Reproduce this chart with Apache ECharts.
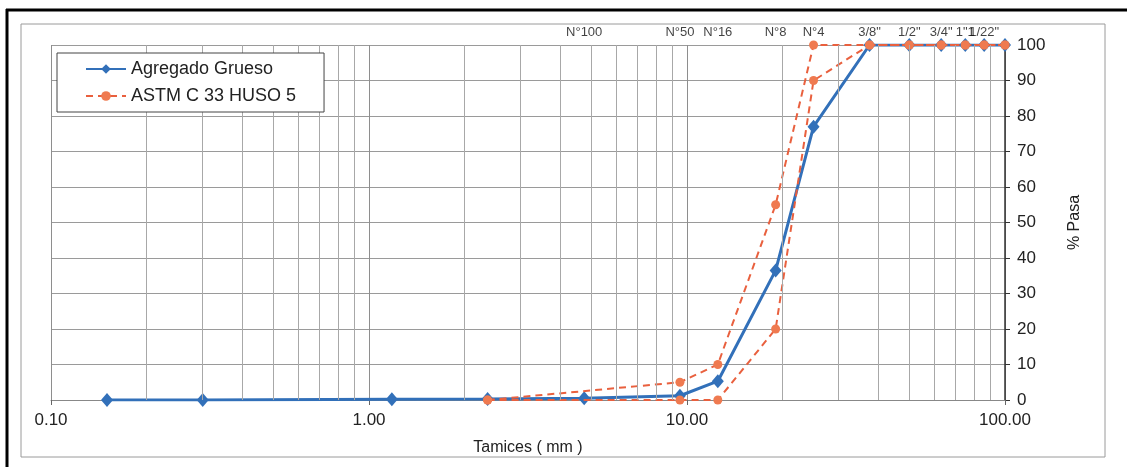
<!DOCTYPE html>
<html>
<head>
<meta charset="utf-8">
<script src="https://cdn.jsdelivr.net/npm/echarts@6/dist/echarts.min.js"></script>
<style>
  html, body { margin: 0; padding: 0; background: #fff; }
  #main { width: 1127px; height: 467px; }
</style>
</head>
<body>
<div id="main"></div>
<script>
// sieve openings (mm) and % passing
const sizesGrueso = [0.15, 0.3, 1.18, 2.36, 4.75, 9.5, 12.5, 19, 25, 37.5, 50, 63, 75, 86, 100];
const pasaGrueso = [0, 0, 0.2, 0.3, 0.5, 1.2, 5.3, 36.5, 77, 100, 100, 100, 100, 100, 100];

const sizesHuso = [2.36, 9.5, 12.5, 19, 25, 37.5, 50, 63, 75, 86, 100];
const husoSuperior = [0, 5, 10, 55, 100, 100, 100, 100, 100, 100, 100];
const husoInferior = [0, 0, 0, 20, 90, 100, 100, 100, 100, 100, 100];

// sieve names printed over the plot
const topLabelSizes = [4.75, 9.5, 12.5, 19, 25, 37.5, 50, 63, 75, 86];
const topLabels = ['N°100', 'N°50', 'N°16', 'N°8', 'N°4', '3/8"', '1/2"', '3/4"', '1"1', '1/22"'];

// minor log gridlines
const minorGrid = [0.2, 0.3, 0.4, 0.5, 0.6, 0.7, 0.8, 0.9,
  2, 3, 4, 5, 6, 7, 8, 9,
  20, 30, 40, 50, 60, 70, 80, 90];

const font = '"Liberation Sans", Arial, sans-serif';
const blue = '#3270b9';
const orange = '#e9603e';

const chart = echarts.init(document.getElementById('main'));

const pair = (xs, ys) => xs.map((x, i) => [x, ys[i]]);

const option = {
  backgroundColor: '#ffffff',
  animation: false,
  textStyle: { fontFamily: font },
  graphic: [
    // inner chart frame
    { type: 'rect', shape: { x: 21, y: 24, width: 1084, height: 433 },
      style: { fill: 'none', stroke: '#9a9a9a', lineWidth: 1 }, z: -1 },
    // scanned outer border (top + left)
    { type: 'line', shape: { x1: 6, y1: 10, x2: 1127, y2: 10 }, style: { stroke: '#000', lineWidth: 3 } },
    { type: 'line', shape: { x1: 7, y1: 9, x2: 7, y2: 467 }, style: { stroke: '#000', lineWidth: 3 } }
  ],
  grid: { left: 51, right: 122, top: 45, bottom: 67 },
  legend: {
    left: 57,
    top: 53,
    orient: 'vertical',
    data: ['Agregado Grueso', 'ASTM C 33 HUSO 5'],
    backgroundColor: '#fff',
    borderColor: '#444',
    borderWidth: 1,
    padding: [7, 28, 7, 28],
    itemGap: 9,
    itemWidth: 40,
    itemHeight: 12,
    textStyle: { fontSize: 18, color: '#222', fontFamily: font },
    z: 10
  },
  xAxis: {
    type: 'log',
    logBase: 10,
    min: 0.1,
    max: 100,
    name: 'Tamices ( mm )',
    nameLocation: 'middle',
    nameGap: 40,
    nameTextStyle: { fontSize: 16, color: '#222' },
    axisLine: { show: true, lineStyle: { color: '#888', width: 1 } },
    axisTick: { show: true, length: 5, lineStyle: { color: '#666' } },
    axisLabel: {
      fontSize: 17,
      color: '#222',
      margin: 12,
      formatter: v => Number(v).toFixed(2)
    },
    splitLine: { show: true, lineStyle: { color: '#8e8e8e', width: 1 } }
  },
  yAxis: {
    type: 'value',
    position: 'right',
    min: 0,
    max: 100,
    interval: 10,
    name: '% Pasa',
    nameLocation: 'middle',
    nameRotate: 90,
    nameGap: 62,
    nameTextStyle: { fontSize: 16, color: '#222' },
    axisLine: { show: true, lineStyle: { color: '#333', width: 1.5 } },
    axisTick: { show: true, length: 5, lineStyle: { color: '#333' } },
    axisLabel: { fontSize: 17, color: '#222', margin: 12 },
    splitLine: { show: true, lineStyle: { color: '#9a9a9a', width: 1 } }
  },
  series: [
    {
      // top sieve names + minor grid
      name: 'labels',
      type: 'scatter',
      data: pair(topLabelSizes, topLabelSizes.map(() => 100)),
      symbolSize: 0,
      silent: true,
      z: 1,
      label: {
        show: true,
        position: 'top',
        distance: 6,
        fontSize: 13,
        color: '#111',
        formatter: p => topLabels[p.dataIndex]
      },
      markLine: {
        silent: true,
        symbol: 'none',
        label: { show: false },
        lineStyle: { color: '#a8a8a8', width: 1, type: 'solid' },
        data: minorGrid.map(v => ({ xAxis: v }))
      }
    },
    {
      name: 'Agregado Grueso',
      type: 'line',
      data: pair(sizesGrueso, pasaGrueso),
      symbol: 'diamond',
      symbolSize: [12, 14],
      lineStyle: { color: blue, width: 3 },
      itemStyle: { color: blue },
      z: 3
    },
    {
      name: 'ASTM C 33 HUSO 5',
      type: 'line',
      data: pair(sizesHuso, husoSuperior),
      symbol: 'circle',
      symbolSize: 9,
      lineStyle: { color: orange, width: 2, type: [7, 5] },
      itemStyle: { color: '#ef7a50' },
      z: 4
    },
    {
      name: 'ASTM C 33 HUSO 5',
      type: 'line',
      data: pair(sizesHuso, husoInferior),
      symbol: 'circle',
      symbolSize: 9,
      lineStyle: { color: orange, width: 2, type: [7, 5] },
      itemStyle: { color: '#ef7a50' },
      z: 4
    }
  ]
};

chart.setOption(option);
</script>
</body>
</html>
